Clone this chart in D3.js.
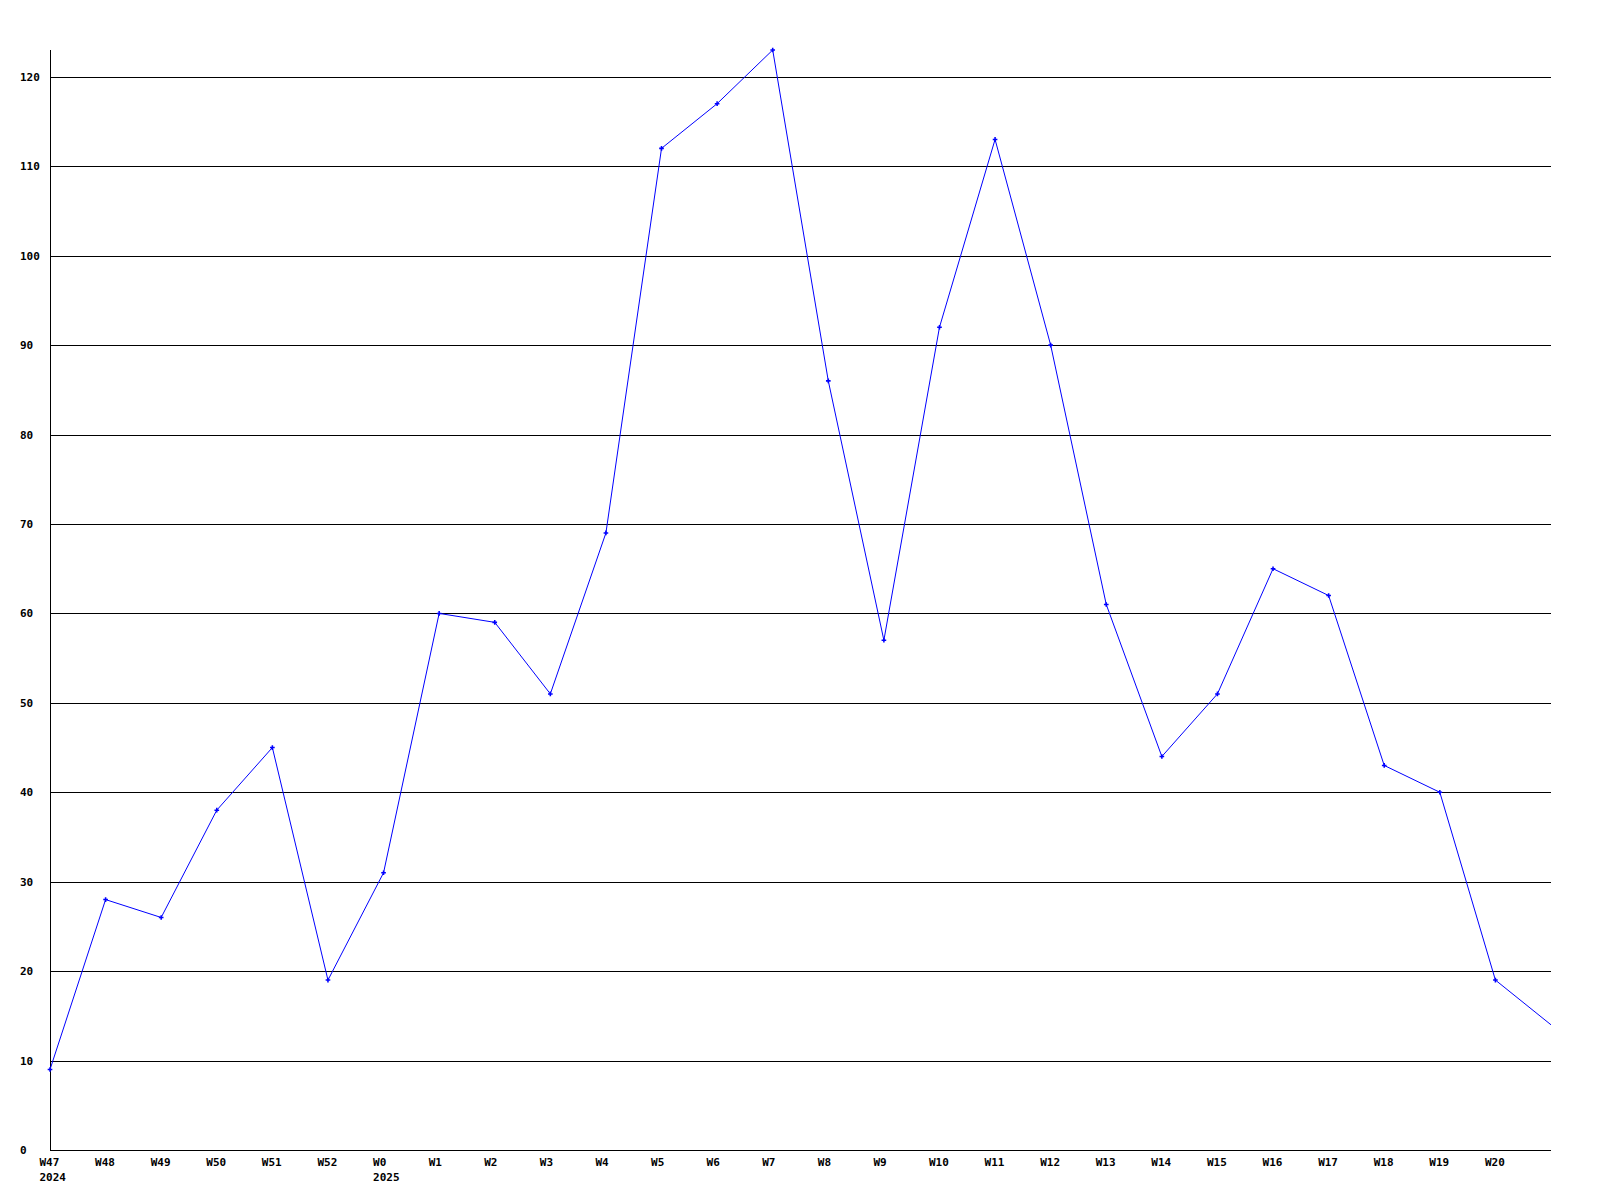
<!DOCTYPE html>
<html>
<head>
<meta charset="utf-8">
<script src="https://cdn.jsdelivr.net/npm/d3@7"></script>
<style>
  html, body { margin: 0; padding: 0; background: #fff; }
  svg { display: block; }
  text { font-family: "DejaVu Sans Mono", "Liberation Mono", monospace; font-weight: bold; font-size: 11px; fill: #000; }
</style>
</head>
<body>
<div id="chart"></div>
<script>
// Week labels (one per data point, last point has no label)
const weekLabels = ["W47","W48","W49","W50","W51","W52","W0","W1","W2","W3","W4","W5","W6","W7","W8","W9","W10","W11","W12","W13","W14","W15","W16","W17","W18","W19","W20",""];
const yearLabels = [{index: 0, label: "2024"}, {index: 6, label: "2025"}];
const values = [9,28,26,38,45,19,31,60,59,51,69,112,117,123,86,57,92,113,90,61,44,51,65,62,43,40,19,14];
const yTicks = [0,10,20,30,40,50,60,70,80,90,100,110,120];
const yMax = 123;

(function () {
const W = 1600, H = 1200;
const mLeft = 50, mRight = 1551, mTop = 50, mBottom = 1150;

const svg = d3.select("#chart").append("svg")
  .attr("width", W).attr("height", H);

const x = d3.scaleLinear().domain([0, values.length - 1]).range([mLeft, mRight]);
const y = d3.scaleLinear().domain([0, yMax]).range([mBottom, mTop]);

// gridlines
svg.append("g").selectAll("line").data(yTicks.filter(d => d > 0)).join("line")
  .attr("x1", mLeft).attr("x2", mRight)
  .attr("y1", d => Math.round(y(d)) + 0.5).attr("y2", d => Math.round(y(d)) + 0.5)
  .attr("stroke", "#000").attr("stroke-width", 1).attr("shape-rendering", "crispEdges");

// axes lines
svg.append("line").attr("x1", mLeft + 0.5).attr("x2", mLeft + 0.5).attr("y1", mTop).attr("y2", mBottom + 0.5)
  .attr("stroke", "#000").attr("shape-rendering", "crispEdges");
svg.append("line").attr("x1", mLeft).attr("x2", mRight).attr("y1", mBottom + 0.5).attr("y2", mBottom + 0.5)
  .attr("stroke", "#000").attr("shape-rendering", "crispEdges");

// y tick labels
svg.append("g").selectAll("text").data(yTicks).join("text")
  .attr("x", 20).attr("y", d => y(d) + 4)
  .attr("text-anchor", "start")
  .text(d => d);

// x tick labels
svg.append("g").selectAll("text").data(weekLabels.map((l, i) => ({l, i})).filter(d => d.l)).join("text")
  .attr("x", d => x(d.i) - 10.5).attr("y", 1166)
  .attr("text-anchor", "start")
  .text(d => d.l);

svg.append("g").selectAll("text").data(yearLabels).join("text")
  .attr("x", d => x(d.index) - 10.5).attr("y", 1181)
  .attr("text-anchor", "start")
  .text(d => d.label);

// line
const line = d3.line().x((d, i) => x(i)).y(d => y(d));
svg.append("path").datum(values)
  .attr("d", line)
  .attr("fill", "none").attr("stroke", "#0000ff").attr("stroke-width", 1);

// markers
svg.append("g").selectAll("path").data(values.slice(0, values.length - 1)).join("path")
  .attr("transform", (d, i) => `translate(${x(i)},${y(d)})`)
  .attr("d", d3.symbol(d3.symbolCross, 12))
  .attr("fill", "#0000ff");
})();
</script>
</body>
</html>
